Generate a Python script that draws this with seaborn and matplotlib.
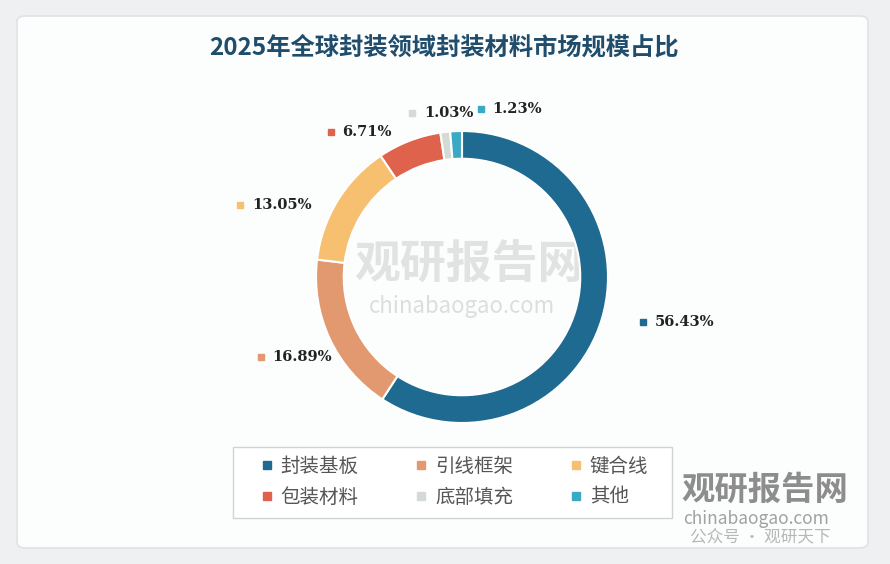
import matplotlib.pyplot as plt
import seaborn as sns
from matplotlib.patches import FancyBboxPatch, Rectangle
from matplotlib.lines import Line2D

sns.set_theme(style="white")
plt.rcParams['font.family'] = ['Noto Sans CJK SC', 'DejaVu Sans']

# data
title = "2025年全球封装领域封装材料市场规模占比"
categories = ["封装基板", "引线框架", "键合线", "包装材料", "底部填充", "其他"]
shares = [56.43, 16.89, 13.05, 6.71, 1.03, 1.23]
colors = ["#1f6a90", "#e3996f", "#f7c071", "#df634c", "#d4dbd4", "#3ba9c4"]

# label anchor spots (in radius units, marker position)
label_pos = [(1.24, -0.31), (-1.38, -0.55), (-1.52, 0.49),
             (-0.90, 0.99), (-0.34, 1.12), (0.13, 1.15)]

W, H = 890, 564
fig = plt.figure(figsize=(W / 100, H / 100), dpi=100)
fig.patch.set_facecolor("#eef0f2")

# white panel behind everything
panel = FancyBboxPatch((17 / W, 16 / H), 851 / W, 532 / H,
                       boxstyle="round,pad=0,rounding_size=0.01",
                       transform=fig.transFigure, facecolor="#fcfdfd",
                       edgecolor="#dfe3e6", linewidth=1.2, zorder=-5)
fig.patches.append(panel)

fig.text(444 / W, 1 - 47 / H, title, ha="center", va="center",
         fontsize=17.5, fontweight="bold", color="#1f4d6b")

# donut
cx, cy, r = 462, 277, 146
ax = fig.add_axes([(cx - r) / W, 1 - (cy + r) / H, 2 * r / W, 2 * r / H])
ax.set_zorder(2)
ax.patch.set_alpha(0)
ax.pie(shares, colors=colors, startangle=90, counterclock=False, radius=1,
       wedgeprops=dict(width=0.19, edgecolor="white", linewidth=1.5))
ax.set_xlim(-1, 1)
ax.set_ylim(-1, 1)
ax.set_aspect("equal")
ax.axis("off")

# watermark in centre
ax.text(0.05, 0.08, "观研报告网", ha="center", va="center", fontsize=33,
        fontweight="bold", color="#c8c8c8", alpha=0.5, zorder=0)
ax.text(0.0, -0.2, "chinabaogao.com", ha="center", va="center", fontsize=16,
        color="#c8c8c8", alpha=0.6, zorder=0)

for (x, y), val, col in zip(label_pos, shares, colors):
    ax.plot([x], [y], marker="s", markersize=4.5, color=col, clip_on=False)
    ax.text(x + 0.08, y, f"{val:.2f}%", ha="left", va="center",
            fontsize=10.5, fontweight="bold", family="DejaVu Serif",
            color="#222222", clip_on=False)

# legend box
box = Rectangle((233 / W, 1 - 518 / H), 439 / W, 71 / H,
                transform=fig.transFigure, facecolor="white",
                edgecolor="#cfd3d6", linewidth=1.0, zorder=1)
fig.patches.append(box)

# legend, row-wise order
handles = [Line2D([0], [0], marker="s", linestyle="none", markersize=6,
                  color=c) for c in colors]
order = [0, 3, 1, 4, 2, 5]
leg = fig.legend([handles[i] for i in order], [categories[i] for i in order],
                 ncol=3, loc="center", bbox_to_anchor=(454 / W, 1 - 482 / H),
                 fontsize=14, frameon=False, handlelength=0.7,
                 handletextpad=0.35, columnspacing=2.9, labelspacing=0.5,
                 borderpad=0, borderaxespad=0)
leg.set_zorder(3)
for t in leg.get_texts():
    t.set_color("#555555")

# bottom-right watermark
fig.text(765 / W, 1 - 490 / H, "观研报告网", ha="center", va="center",
         fontsize=24, fontweight="bold", color="#7a7a7a", alpha=0.85,
         zorder=5)
fig.text(756 / W, 1 - 519 / H, "chinabaogao.com", ha="center", va="center",
         fontsize=12.5, color="#8a8a8a", alpha=0.8, zorder=5)
fig.text(760 / W, 1 - 537 / H, "公众号 · 观研天下", ha="center", va="center",
         fontsize=12, color="#9a9a9a", alpha=0.7, zorder=5)

fig.savefig("out.png", dpi=100, facecolor=fig.get_facecolor())
